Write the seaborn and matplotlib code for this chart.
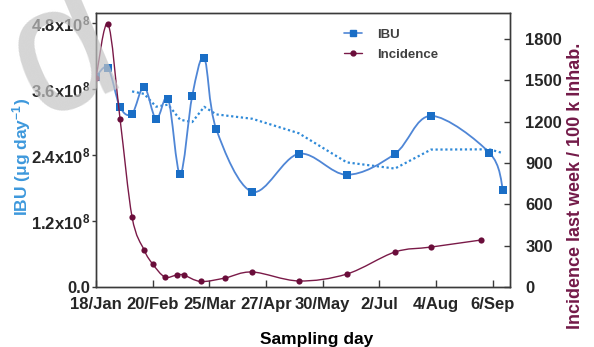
import numpy as np
import pandas as pd
import matplotlib
matplotlib.use("Agg")
import matplotlib.pyplot as plt
import seaborn as sns
from matplotlib.path import Path
from matplotlib.patches import PathPatch
from matplotlib.lines import Line2D

# ---- data ----
start_day = "2021-01-18"

ibu_dates = ["2021-01-18", "2021-01-25", "2021-02-01", "2021-02-08", "2021-02-15",
             "2021-02-22", "2021-03-01", "2021-03-08", "2021-03-15", "2021-03-22",
             "2021-03-29", "2021-04-19", "2021-05-16", "2021-06-13", "2021-07-11",
             "2021-08-01", "2021-09-04", "2021-09-12"]
ibu_load = [3.82e8, 3.98e8, 3.27e8, 3.15e8, 3.64e8, 3.05e8, 3.42e8, 2.05e8, 3.47e8,
            4.16e8, 2.87e8, 1.73e8, 2.42e8, 2.04e8, 2.42e8, 3.11e8, 2.44e8, 1.76e8]

inc_dates = ["2021-01-18", "2021-01-25", "2021-02-01", "2021-02-08", "2021-02-15",
             "2021-02-20", "2021-02-27", "2021-03-06", "2021-03-10", "2021-03-20",
             "2021-04-03", "2021-04-19", "2021-05-16", "2021-06-13", "2021-07-11",
             "2021-08-01", "2021-08-30"]
incidence = [1518, 1910, 1220, 508, 269, 167, 73, 87, 87, 40, 65, 109, 44, 94,
             254, 290, 341]

tick_labels = ["18/Jan", "20/Feb", "25/Mar", "27/Apr", "30/May", "2/Jul", "4/Aug", "6/Sep"]
tick_dates = ["2021-01-18", "2021-02-20", "2021-03-25", "2021-04-27", "2021-05-30",
              "2021-07-02", "2021-08-04", "2021-09-06"]
ibu_ticks = [0.0, 1.2e8, 2.4e8, 3.6e8, 4.8e8]
ibu_tick_labels = ["0.0", "1.2x10$^{8}$", "2.4x10$^{8}$", "3.6x10$^{8}$", "4.8x10$^{8}$"]
inc_ticks = [0, 300, 600, 900, 1200, 1500, 1800]

# ---- style ----
sns.set_style("ticks")
plt.rcParams["font.family"] = ["Liberation Sans", "DejaVu Sans"]
plt.rcParams["mathtext.fontset"] = "custom"
plt.rcParams["mathtext.rm"] = "Liberation Sans:bold"
plt.rcParams["mathtext.bf"] = "Liberation Sans:bold"
plt.rcParams["mathtext.it"] = "Liberation Sans:bold:italic"

BLUE_LINE = "#4f86d6"
BLUE_MARK = "#1a6ec6"
BLUE_TREND = "#2f8ad8"
BLUE_LABEL = "#3d98dc"
MAROON = "#6a0d3a"
MAROON_LINE = "#7a1a48"
MAROON_LABEL = "#731a48"
SPINE = "#3a3a3a"

t0 = pd.Timestamp(start_day)


def day_numbers(dates):
    return np.asarray((pd.to_datetime(dates) - t0).days, dtype=float)


ibu_df = pd.DataFrame({"day": day_numbers(ibu_dates), "load": ibu_load})
ibu_df["trend"] = ibu_df["load"].rolling(4).mean()
inc_df = pd.DataFrame({"day": day_numbers(inc_dates), "incidence": incidence})


def smooth_path(x, y):
    """Cubic Bezier path through the points (Catmull-Rom style tangents)."""
    pts = np.column_stack([x, y]).astype(float)
    n = len(pts)
    verts = [pts[0]]
    codes = [Path.MOVETO]
    for i in range(n - 1):
        p0 = pts[i - 1] if i > 0 else pts[i]
        p1 = pts[i]
        p2 = pts[i + 1]
        p3 = pts[i + 2] if i + 2 < n else pts[i + 1]
        verts += [p1 + (p2 - p0) / 6.0, p2 - (p3 - p1) / 6.0, p2]
        codes += [Path.CURVE4] * 3
    return Path(verts, codes)


fig = plt.figure(figsize=(5.94, 3.47), dpi=100)
ax = fig.add_axes([96 / 594, 1 - 287 / 347, 414 / 594, 274 / 347])
ax2 = ax.twinx()

# IBU load: smoothed line, markers, 4-point moving average
ax.add_patch(PathPatch(smooth_path(ibu_df["day"], ibu_df["load"]), fill=False,
                       edgecolor=BLUE_LINE, lw=1.3, zorder=3))
sns.scatterplot(data=ibu_df, x="day", y="load", ax=ax, marker="s", s=32,
                color=BLUE_MARK, edgecolor=BLUE_MARK, linewidth=0, zorder=4)
sns.lineplot(data=ibu_df.dropna(), x="day", y="trend", ax=ax, color=BLUE_TREND,
             lw=1.6, linestyle=(0, (1, 1.2)), zorder=2)

# Incidence: smoothed line and markers
ax2.add_patch(PathPatch(smooth_path(inc_df["day"], inc_df["incidence"]), fill=False,
                        edgecolor=MAROON_LINE, lw=1.0, zorder=3))
sns.scatterplot(data=inc_df, x="day", y="incidence", ax=ax2, marker="o", s=20,
                color=MAROON, edgecolor=MAROON, linewidth=0, zorder=4)

ax.set_xlim(0, 241)
ax.set_ylim(0, 4.98e8)
ax2.set_ylim(0, 1990)

ax.set_xticks(day_numbers(tick_dates))
ax.set_xticklabels(tick_labels)
ax.set_yticks(ibu_ticks)
ax.set_yticklabels(ibu_tick_labels)
ax2.set_yticks(inc_ticks)
ax.set_xlabel("")
ax.set_ylabel("")
ax2.set_ylabel("")

for a in (ax, ax2):
    for sp in a.spines.values():
        sp.set_visible(True)
        sp.set_color(SPINE)
        sp.set_linewidth(1.0)

ax.tick_params(axis="x", direction="in", length=5, width=1, color=SPINE, pad=7,
               labelsize=12, top=False)
ax.tick_params(axis="y", direction="out", length=3, width=1, color=SPINE, pad=1,
               labelsize=12, right=False)
ax2.tick_params(axis="y", direction="in", length=4, width=1, color=SPINE, pad=11,
                labelsize=12)
for lab in ax.get_xticklabels() + ax.get_yticklabels() + ax2.get_yticklabels():
    lab.set_fontweight("bold")

fig.text(22 / 594, 1 - 157 / 347, "IBU (μg day$^{-1}$)", rotation=90, ha="center",
         va="center", color=BLUE_LABEL, fontsize=12.5, fontweight="bold")
fig.text(576 / 594, 1 - 186 / 347, "Incidence last week / 100 k Inhab.", rotation=90,
         ha="center", va="center", color=MAROON_LABEL, fontsize=13, fontweight="bold")
fig.text(317 / 594, 1 - 332 / 347, "Sampling day", ha="center", va="top",
         fontsize=12.5, fontweight="bold", color="black")

handles = [Line2D([], [], color=BLUE_LINE, lw=1.2, marker="s", ms=5,
                  markerfacecolor=BLUE_MARK, markeredgecolor=BLUE_MARK),
           Line2D([], [], color=MAROON_LINE, lw=1.0, marker="o", ms=3.5,
                  markerfacecolor=MAROON, markeredgecolor=MAROON)]
leg = ax2.legend(handles, ["IBU", "Incidence"], loc="upper left",
                 bbox_to_anchor=(332 / 594, 1 - 17 / 347), bbox_transform=fig.transFigure,
                 frameon=False, fontsize=9.5, handlelength=1.35, handletextpad=1.15,
                 labelspacing=0.55, borderpad=0.4)
for t in leg.get_texts():
    t.set_color("#404040")
    t.set_fontweight("bold")

# light tilted watermark letter in the upper-left corner
fig.text(70 / 594, 1 + 3.5 / 347, "p", rotation=203, rotation_mode="anchor",
         ha="left", va="baseline", fontsize=130, color="#c4c4c4", alpha=0.7,
         zorder=20)

fig.savefig("out.png", dpi=100)
